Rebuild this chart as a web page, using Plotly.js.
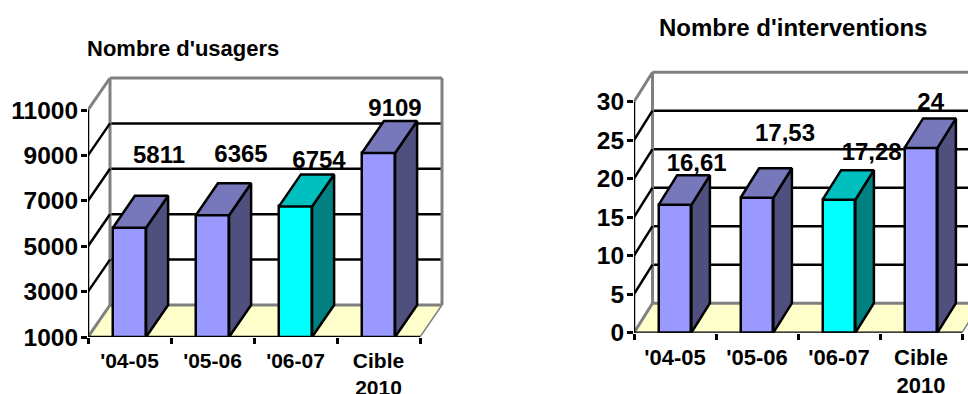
<!DOCTYPE html>
<html>
<head>
<meta charset="utf-8">
<script src="https://cdn.plot.ly/plotly-3.0.1.min.js"></script>
<style>html,body{margin:0;padding:0;background:#fff;overflow:hidden}</style>
</head>
<body>
<div id="chart" style="width:968px;height:394px"></div>
<script>
const categories = ["'04-05", "'05-06", "'06-07", "Cible<br>2010"];
const usagersValues = [5811, 6365, 6754, 9109];
const usagersTicks = [1000, 3000, 5000, 7000, 9000, 11000];
const interventionsValues = [16.61, 17.53, 17.28, 24];
const interventionsTicks = [0, 5, 10, 15, 20, 25, 30];

const WIDTH = 968, HEIGHT = 394;
const FONT = 'Liberation Sans, Arial, sans-serif';
const GRAY = '#808080';
const INK = 2.5;
const BLUE = {front: '#9999ff', top: '#7777bb', side: '#50507f'};
const CYAN = {front: '#00ffff', top: '#00bfbf', side: '#008080'};
const bands = [BLUE, BLUE, CYAN, BLUE];

const traces = [], shapes = [], annotations = [], axes = {};

function addChart(c) {
  const xa = 'xaxis' + c.suffix, ya = 'yaxis' + c.suffix;
  const xr = 'x' + c.suffix, yr = 'y' + c.suffix;
  const ticks = c.ticks, yMin = ticks[0], yMax = ticks[ticks.length - 1];
  const n = c.values.length;
  const catPx = c.catPx;
  const unitPx = (c.base - c.axisTop) / (yMax - yMin);
  const dx = c.depthX / catPx, dy = c.depthY / unitPx;
  const half = 0.2;

  axes[xa] = {
    domain: [c.left / WIDTH, c.right / WIDTH],
    range: [0, (c.right - c.left) / catPx],
    anchor: yr, showgrid: false, zeroline: false, showline: false,
    tickmode: 'array', tickvals: categories.map((_, i) => i + 0.5), ticktext: categories,
    ticks: '', ticklabelstandoff: 9,
    tickfont: {family: FONT, size: c.catFont, weight: 700, color: '#000'},
    minor: {tickmode: 'array', tickvals: categories.map((_, i) => i).concat(n),
            ticks: 'outside', ticklen: 6, tickwidth: INK, tickcolor: '#000', showgrid: false}
  };
  axes[ya] = {
    domain: [(HEIGHT - c.base) / HEIGHT, (HEIGHT - c.top) / HEIGHT],
    range: [yMin, yMin + (c.base - c.top) / unitPx],
    anchor: xr, showgrid: false, zeroline: false, showline: false,
    tickmode: 'array', tickvals: ticks, ticktext: ticks.map(String),
    ticks: 'outside', ticklen: 6, tickwidth: INK, tickcolor: '#000', ticklabelstandoff: -2,
    tickfont: {family: FONT, size: 24.5, weight: 700, color: '#000'}
  };

  const line = (x0, y0, x1, y1, color, width) => shapes.push({
    type: 'line', layer: 'below', xref: xr, yref: yr, x0, y0, x1, y1,
    line: {color, width}
  });

  // back wall: horizontal grid, then the frame
  ticks.slice(1, -1).forEach(t => line(dx, t + dy, n + dx, t + dy, '#000', INK));
  // floor
  shapes.push({
    type: 'path', layer: 'below', xref: xr, yref: yr,
    path: `M0,${yMin} L${n},${yMin} L${n + dx},${yMin + dy} L${dx},${yMin + dy} Z`,
    fillcolor: '#ffffcc', line: {width: 0}
  });
  line(dx, yMin + dy, dx, yMax + dy, GRAY, 3);
  line(dx, yMax + dy, n + dx, yMax + dy, GRAY, 3);
  line(n + dx, yMin + dy, n + dx, yMax + dy, GRAY, 3);
  line(dx, yMin + dy, n + dx, yMin + dy, GRAY, 3);
  line(n, yMin, n + dx, yMin + dy, GRAY, 1.5);

  // front faces of the columns
  traces.push({
    type: 'bar', xaxis: xr, yaxis: yr, x: categories.map((_, i) => i + 0.5), y: c.values,
    width: half * 2, hoverinfo: 'skip', showlegend: false,
    marker: {color: bands.map(b => b.front), line: {color: '#000', width: INK}}
  });

  // value labels sit behind the column tops
  traces.push({
    type: 'scatter', mode: 'text', xaxis: xr, yaxis: yr, cliponaxis: false, hoverinfo: 'skip', showlegend: false,
    x: c.values.map((_, i) => i + 0.5 + c.labelShift[i][0] / catPx),
    y: c.values.map((v, i) => v + c.labelShift[i][1] / unitPx),
    text: c.values.map(v => String(v).replace('.', ',')),
    textposition: 'middle center',
    textfont: {family: FONT, size: 24, weight: 700, color: '#000'}
  });

  const poly = (xs, ys, fill) => traces.push({
    type: 'scatter', mode: 'lines', xaxis: xr, yaxis: yr, x: xs, y: ys, fill: 'toself',
    fillcolor: fill, line: {color: '#000', width: INK, shape: 'linear'},
    hoverinfo: 'skip', showlegend: false
  });

  // top and side faces, extruded from each value
  c.values.forEach((v, i) => {
    const l = i + 0.5 - half, r = i + 0.5 + half;
    poly([r, r + dx, r + dx, r, r], [yMin, yMin + dy, v + dy, v, yMin], bands[i].side);
    poly([l, r, r + dx, l + dx, l], [v, v, v + dy, v + dy, v], bands[i].top);
  });

  const stroke = (xs, ys, color, width) => traces.push({
    type: 'scatter', mode: 'lines', xaxis: xr, yaxis: yr, x: xs, y: ys, cliponaxis: false,
    line: {color, width}, hoverinfo: 'skip', showlegend: false, connectgaps: false
  });

  // side wall: grid diagonals, gray outer edges
  const sx = [], sy = [];
  ticks.slice(1, -1).forEach(t => { sx.push(0, dx, null); sy.push(t, t + dy, null); });
  stroke(sx, sy, '#000', INK);
  stroke([0, dx], [yMax, yMax + dy], GRAY, 3);
  stroke([0, dx], [yMin, yMin + dy], GRAY, 3);

  // axis lines stop at the front plane of the box
  stroke([0, 0], [yMin, yMax], '#000', INK);
  stroke([0, n], [yMin, yMin], '#000', INK);

  annotations.push({
    xref: 'paper', yref: 'paper', x: c.titleX / WIDTH, y: (HEIGHT - c.titleY) / HEIGHT,
    xanchor: 'center', yanchor: 'middle', showarrow: false, text: c.title,
    font: {family: FONT, size: c.titleFont, weight: 700, color: '#000'}
  });
}

addChart({
  suffix: '', title: "Nombre d'usagers", titleX: 183, titleY: 48, titleFont: 22, catFont: 21,
  values: usagersValues, ticks: usagersTicks, catPx: 83,
  left: 88, right: 452, base: 337, axisTop: 110, top: 70, depthX: 22, depthY: 32,
  labelShift: [[29.5, 70.8], [28.5, 59.5], [23.5, 44], [16.5, 42.5]]
});
addChart({
  suffix: '2', title: "Nombre d'interventions", titleX: 793, titleY: 27, titleFont: 24, catFont: 22,
  values: interventionsValues, ticks: interventionsTicks, catPx: 82,
  left: 634, right: 968, base: 332.7, axisTop: 101.7, top: 66, depthX: 18.5, depthY: 29.5,
  labelShift: [[21.7, 39.5], [28, 62.5], [32.7, 46], [9.7, 43.5]]
});

Plotly.newPlot('chart', traces, Object.assign({
  width: WIDTH, height: HEIGHT,
  margin: {l: 0, r: 0, t: 0, b: 0},
  paper_bgcolor: '#fff', plot_bgcolor: 'rgba(0,0,0,0)',
  showlegend: false, bargap: 0,
  shapes, annotations
}, axes), {displayModeBar: false});
</script>
</body>
</html>
